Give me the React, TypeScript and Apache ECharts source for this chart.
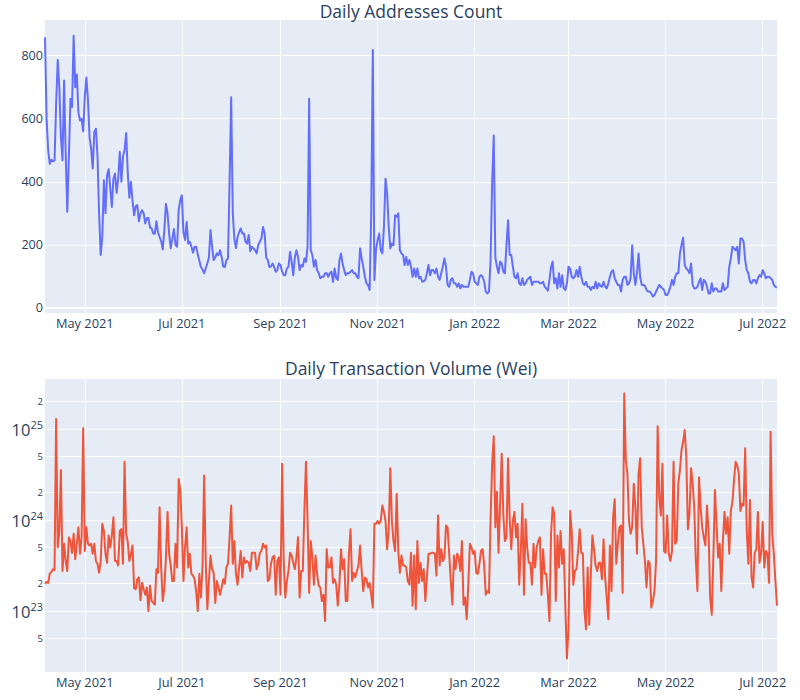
import { useEffect, useRef } from "react";
import * as echarts from "echarts";

// First day of both daily series (UTC): 2021-04-06
const START_YEAR = 2021;
const START_MONTH = 3; // April (0-based)
const START_DAY = 6;

// Daily addresses count, 2021-04-06 .. 2021-12-31
const addresses2021 = [
  858, 600, 500, 457, 470, 465, 468, 647, 786, 700,
  542, 468, 721, 489, 305, 480, 663, 637, 863, 700,
  740, 620, 594, 600, 560, 668, 731, 660, 540, 505,
  442, 558, 568, 480, 300, 168, 225, 405, 300, 420,
  440, 380, 320, 410, 426, 365, 410, 495, 400, 480,
  500, 555, 430, 350, 400, 340, 294, 322, 326, 275,
  300, 310, 300, 268, 285, 285, 255, 252, 236, 235,
  275, 240, 225, 212, 185, 247, 330, 300, 236, 189,
  220, 250, 200, 194, 310, 342, 357, 240, 215, 273,
  204, 210, 195, 175, 194, 194, 170, 150, 130, 122,
  110, 125, 141, 160, 247, 194, 152, 160, 173, 168,
  183, 162, 131, 130, 152, 157, 400, 668, 300, 220,
  190, 225, 240, 252, 236, 236, 210, 204, 231, 180,
  194, 189, 183, 173, 200, 210, 220, 257, 236, 160,
  152, 130, 131, 141, 130, 115, 120, 141, 136, 115,
  104, 104, 125, 130, 178, 146, 104, 160, 183, 162,
  120, 136, 131, 157, 146, 194, 663, 183, 168, 131,
  152, 120, 110, 94, 99, 99, 110, 110, 99, 110,
  115, 83, 125, 95, 89, 150, 173, 140, 120, 104,
  110, 110, 115, 120, 110, 110, 99, 94, 189, 157,
  131, 99, 78, 73, 57, 300, 818, 89, 183, 215,
  236, 183, 173, 257, 410, 363, 257, 189, 204, 199,
  294, 289, 300, 183, 173, 168, 136, 162, 136, 152,
  131, 99, 125, 99, 125, 94, 99, 83, 85, 89,
  110, 136, 104, 120, 120, 110, 125, 99, 89, 110,
  131, 157, 131, 73, 67, 89, 94, 78, 78, 67,
  78, 62, 73, 67, 67, 67, 67, 89, 115, 110,
];

// Daily addresses count, 2022-01-01 .. 2022-07-10
const addresses2022 = [
  83, 78, 73, 99, 104, 99, 83, 52, 46, 52,
  150, 400, 547, 160, 131, 110, 147, 141, 115, 110,
  200, 278, 168, 168, 131, 99, 94, 110, 78, 73,
  94, 73, 78, 89, 94, 99, 73, 83, 83, 83,
  83, 78, 78, 83, 67, 62, 55, 89, 130, 147,
  78, 94, 62, 110, 67, 104, 62, 57, 78, 131,
  125, 99, 94, 100, 120, 99, 131, 99, 78, 73,
  83, 67, 67, 57, 67, 62, 83, 62, 78, 70,
  67, 83, 67, 62, 78, 99, 115, 120, 94, 83,
  73, 73, 52, 89, 99, 99, 73, 78, 94, 199,
  110, 73, 110, 173, 99, 73, 73, 70, 57, 52,
  52, 46, 36, 41, 52, 62, 73, 67, 62, 57,
  41, 41, 52, 67, 89, 73, 99, 110, 110, 173,
  200, 223, 136, 125, 120, 110, 141, 73, 62, 62,
  67, 83, 94, 57, 89, 83, 67, 46, 46, 78,
  52, 62, 62, 52, 52, 52, 78, 57, 62, 67,
  131, 157, 194, 189, 183, 194, 141, 220, 220, 210,
  152, 120, 110, 83, 78, 89, 89, 78, 94, 104,
  99, 120, 110, 94, 99, 99, 94, 89, 73, 67,
  65,
];

// Daily transaction volume in Wei, written as its power of ten (volume = 10^x)
const volumeExp2021 = [
  23.30, 23.32, 23.31, 23.41, 23.43, 23.46, 23.45, 25.11, 23.70, 23.88,
  24.55, 23.44, 23.74, 23.55, 23.44, 23.81, 23.77, 23.64, 23.85, 23.57,
  23.74, 23.92, 23.63, 23.81, 25.01, 23.66, 23.92, 23.74, 23.72, 23.74,
  23.63, 23.74, 23.55, 23.52, 23.42, 23.55, 23.96, 23.88, 23.63, 23.53,
  23.83, 23.70, 23.83, 24.03, 23.55, 23.55, 23.50, 23.88, 23.90, 23.52,
  24.64, 23.85, 23.76, 23.55, 23.63, 23.72, 23.25, 23.24, 23.35, 23.37,
  23.12, 23.31, 23.24, 23.18, 23.26, 23.00, 23.28, 23.11, 23.09, 23.07,
  23.46, 23.42, 24.14, 23.48, 23.11, 23.26, 23.59, 24.09, 23.63, 23.50,
  23.33, 23.33, 23.74, 23.48, 24.45, 24.33, 23.92, 23.33, 23.70, 23.92,
  23.48, 23.63, 23.41, 23.39, 23.35, 23.22, 23.00, 23.41, 23.15, 23.50,
  24.49, 23.55, 23.02, 23.33, 23.61, 23.46, 23.42, 23.09, 23.33, 23.26,
  23.18, 23.26, 23.35, 23.30, 23.48, 23.52, 23.81, 24.16, 23.52, 23.77,
  23.41, 23.29, 23.48, 23.66, 23.37, 23.59, 23.53, 23.55, 23.53, 23.44,
  23.64, 23.64, 23.64, 23.46, 23.52, 23.64, 23.66, 23.74, 23.70, 23.72,
  23.33, 23.35, 23.52, 23.59, 23.61, 23.18, 23.55, 23.59, 23.18, 24.62,
  23.55, 23.15, 23.33, 23.44, 23.64, 23.61, 23.53, 23.46, 23.59, 23.81,
  23.15, 23.44, 23.44, 24.10, 24.64, 23.99, 23.20, 23.77, 23.59, 23.29,
  23.61, 23.41, 23.28, 23.26, 23.11, 23.18, 22.89, 23.68, 23.48, 23.48,
  23.59, 23.31, 23.35, 23.29, 23.06, 23.29, 23.68, 23.46, 23.57, 23.11,
  23.11, 23.63, 23.90, 23.33, 23.42, 23.37, 23.44, 23.50, 23.72, 23.44,
  23.22, 23.37, 23.35, 23.26, 23.31, 23.18, 23.04, 23.96, 23.96, 23.99,
  23.96, 23.99, 24.16, 24.09, 23.99, 23.68, 23.90, 24.57, 23.99, 23.77,
  23.66, 24.29, 23.66, 23.42, 23.61, 23.50, 23.50, 23.48, 23.33, 23.29,
  23.64, 23.06, 23.61, 23.02, 23.77, 23.31, 23.53, 23.33, 23.46, 23.11,
  23.37, 23.63, 23.63, 23.64, 23.64, 23.63, 23.39, 24.05, 23.50, 23.68,
  23.55, 23.59, 23.94, 23.92, 23.63, 23.33, 23.07, 23.61, 23.46, 23.63,
  23.59, 23.44, 23.77, 23.07, 23.15, 22.91, 23.29, 23.74, 23.70, 23.63,
];

const volumeExp2022 = [
  23.66, 23.42, 23.41, 23.52, 23.66, 23.68, 23.50, 23.18, 23.22, 23.20,
  23.99, 24.62, 24.92, 23.92, 24.31, 23.64, 24.18, 24.73, 24.07, 23.77,
  23.81, 24.68, 24.03, 23.68, 23.99, 24.09, 23.81, 23.96, 23.29, 23.66,
  24.18, 23.18, 24.01, 23.70, 23.53, 23.53, 23.29, 23.74, 23.48, 23.70,
  23.77, 23.81, 23.18, 23.68, 23.41, 23.41, 23.18, 22.89, 23.85, 24.14,
  24.07, 23.11, 23.83, 23.48, 23.88, 23.52, 23.68, 23.04, 22.48, 22.82,
  24.10, 23.88, 23.29, 23.44, 23.46, 23.66, 23.90, 23.64, 23.63, 23.00,
  22.80, 23.48, 22.85, 23.41, 23.83, 23.68, 23.50, 23.44, 23.53, 23.53,
  23.35, 23.79, 23.37, 23.15, 22.91, 23.72, 23.22, 24.03, 24.23, 23.52,
  23.74, 23.92, 23.94, 23.20, 25.39, 24.66, 24.51, 23.99, 23.85, 23.92,
  24.40, 24.14, 23.63, 24.51, 24.68, 23.92, 23.74, 23.55, 23.26, 23.55,
  23.53, 23.04, 23.11, 23.22, 23.55, 25.03, 24.25, 24.05, 24.62, 23.66,
  23.64, 24.05, 23.63, 23.55, 23.66, 24.64, 23.74, 23.77, 24.40, 24.55,
  24.77, 24.86, 24.99, 24.69, 23.90, 24.07, 24.57, 24.40, 24.14, 23.55,
  23.22, 24.47, 24.14, 23.92, 23.81, 23.72, 24.16, 23.88, 23.15, 22.96,
  23.59, 24.33, 23.96, 23.59, 23.74, 23.22, 23.77, 24.09, 23.85, 24.03,
  23.63, 24.10, 24.20, 24.44, 24.64, 24.60, 24.51, 24.10, 24.18, 24.16,
  24.79, 23.88, 23.52, 24.22, 23.37, 23.26, 23.64, 23.68, 24.09, 23.53,
  23.63, 23.98, 23.48, 23.66, 23.63, 23.31, 24.97, 23.85, 23.63, 23.33,
  23.06,
];

// Axis ticks
const addressTicks = [0, 200, 400, 600, 800];
const dateTicks: [number, number][] = [
  [2021, 4], [2021, 6], [2021, 8], [2021, 10],
  [2022, 0], [2022, 2], [2022, 4], [2022, 6],
];
const dateTickLabels = [
  "May 2021", "Jul 2021", "Sep 2021", "Nov 2021",
  "Jan 2022", "Mar 2022", "May 2022", "Jul 2022",
];
const volumeTicks = [5e22, 1e23, 2e23, 5e23, 1e24, 2e24, 5e24, 1e25, 2e25];
const volumeTickLabels = ["5", "10^23", "2", "5", "10^24", "2", "5", "10^25", "2"];

const TITLE_TOP = "Daily Addresses Count";
const TITLE_BOTTOM = "Daily Transaction Volume (Wei)";

const FONT = '"Open Sans", verdana, arial, sans-serif';
const TEXT = "#2a3f5f";
const DAY = 86400000;

export default function App() {
  const ref = useRef<HTMLDivElement>(null);

  useEffect(() => {
    if (!ref.current) return;
    const chart = echarts.init(ref.current, undefined, { renderer: "svg" });

    const start = Date.UTC(START_YEAR, START_MONTH, START_DAY);
    const addresses = [...addresses2021, ...addresses2022];
    const volumeExp = [...volumeExp2021, ...volumeExp2022];
    const addrData = addresses.map((v, i) => [start + i * DAY, v]);
    const volData = volumeExp.map((e, i) => [start + i * DAY, Math.pow(10, e)]);
    const end = start + (addresses.length - 1) * DAY;

    const tickTs = dateTicks.map(([y, m]) => Date.UTC(y, m, 1));
    const dateFmt = (v: number) => {
      let best = 0;
      let bd = Infinity;
      tickTs.forEach((t, i) => {
        const d = Math.abs(t - v);
        if (d < bd) { bd = d; best = i; }
      });
      return dateTickLabels[best];
    };
    const volFmt = (v: number) => {
      const lv = Math.log10(v);
      let best = 0;
      let bd = Infinity;
      volumeTicks.forEach((t, i) => {
        const d = Math.abs(Math.log10(t) - lv);
        if (d < bd) { bd = d; best = i; }
      });
      const lab = volumeTickLabels[best];
      if (lab.indexOf("^") >= 0) {
        const [b, e] = lab.split("^");
        return `{base|${b}}{sup|${e}}`;
      }
      return `{minor|${lab}}`;
    };

    const xAxisBase = (gridIndex: number) => ({
      type: "value",
      gridIndex,
      min: start,
      max: end,
      axisLine: { show: false },
      axisTick: { show: false, customValues: tickTs },
      axisLabel: {
        customValues: tickTs,
        formatter: dateFmt,
        color: TEXT,
        fontSize: 12.8,
        fontFamily: FONT,
        margin: 3,
        hideOverlap: false,
        showMinLabel: true,
        showMaxLabel: true,
      },
      splitLine: { show: true, lineStyle: { color: "#ffffff", width: 1 } },
    });

    const titleText = (text: string, y: number) => ({
      type: "text",
      x: 411,
      y,
      style: {
        text,
        fontSize: 17.5,
        fontFamily: FONT,
        fill: TEXT,
        textAlign: "center",
        textVerticalAlign: "middle",
      },
    });

    const option: any = {
      animation: false,
      backgroundColor: "#ffffff",
      textStyle: { fontFamily: FONT },
      graphic: [titleText(TITLE_TOP, 11), titleText(TITLE_BOTTOM, 367.5)],
      grid: [
        {
          left: 45, top: 20, width: 732, height: 293,
          show: true, backgroundColor: "#E5ECF6", borderWidth: 0,
          containLabel: false, outerBoundsMode: "none",
        },
        {
          left: 45, top: 379, width: 732, height: 293,
          show: true, backgroundColor: "#E5ECF6", borderWidth: 0,
          containLabel: false, outerBoundsMode: "none",
        },
      ],
      xAxis: [xAxisBase(0), xAxisBase(1)],
      yAxis: [
        {
          type: "value",
          gridIndex: 0,
          min: -16,
          max: 913,
          axisLine: { show: false },
          axisTick: { show: false, customValues: addressTicks },
          axisLabel: {
            customValues: addressTicks,
            color: TEXT,
            fontSize: 12.6,
            fontFamily: FONT,
            margin: 2,
          },
          splitLine: { show: true, lineStyle: { color: "#ffffff", width: 1 } },
        },
        {
          type: "log",
          logBase: 10,
          gridIndex: 1,
          min: 2.14e22,
          max: 3.55e25,
          axisLine: { show: false },
          axisTick: { show: false, customValues: volumeTicks },
          axisLabel: {
            customValues: volumeTicks,
            formatter: volFmt,
            color: TEXT,
            fontFamily: FONT,
            margin: 2,
            rich: {
              base: { fontSize: 16.5, color: TEXT, fontFamily: FONT, lineHeight: 20 },
              sup: { fontSize: 11, color: TEXT, fontFamily: FONT, lineHeight: 14, verticalAlign: "top" },
              minor: { fontSize: 9.5, color: TEXT, fontFamily: FONT },
            },
          },
          splitLine: { show: true, lineStyle: { color: "#ffffff", width: 1 } },
        },
      ],
      series: [
        {
          type: "line",
          name: TITLE_TOP,
          xAxisIndex: 0,
          yAxisIndex: 0,
          data: addrData,
          showSymbol: false,
          symbol: "none",
          lineStyle: { color: "#636EFA", width: 2, join: "round" },
          itemStyle: { color: "#636EFA" },
          markLine: {
            silent: true,
            symbol: ["none", "none"],
            label: { show: false },
            lineStyle: { color: "#ffffff", width: 2, type: "solid" },
            data: [{ yAxis: 0 }],
            z: 1,
          },
          z: 3,
        },
        {
          type: "line",
          name: TITLE_BOTTOM,
          xAxisIndex: 1,
          yAxisIndex: 1,
          data: volData,
          showSymbol: false,
          symbol: "none",
          lineStyle: { color: "#EF553B", width: 2, join: "round" },
          itemStyle: { color: "#EF553B" },
          z: 3,
        },
      ],
    };

    chart.setOption(option);
    return () => chart.dispose();
  }, []);

  return (
    <div
      ref={ref}
      style={{ position: "absolute", left: 0, top: 0, width: 800, height: 700 }}
    />
  );
}
